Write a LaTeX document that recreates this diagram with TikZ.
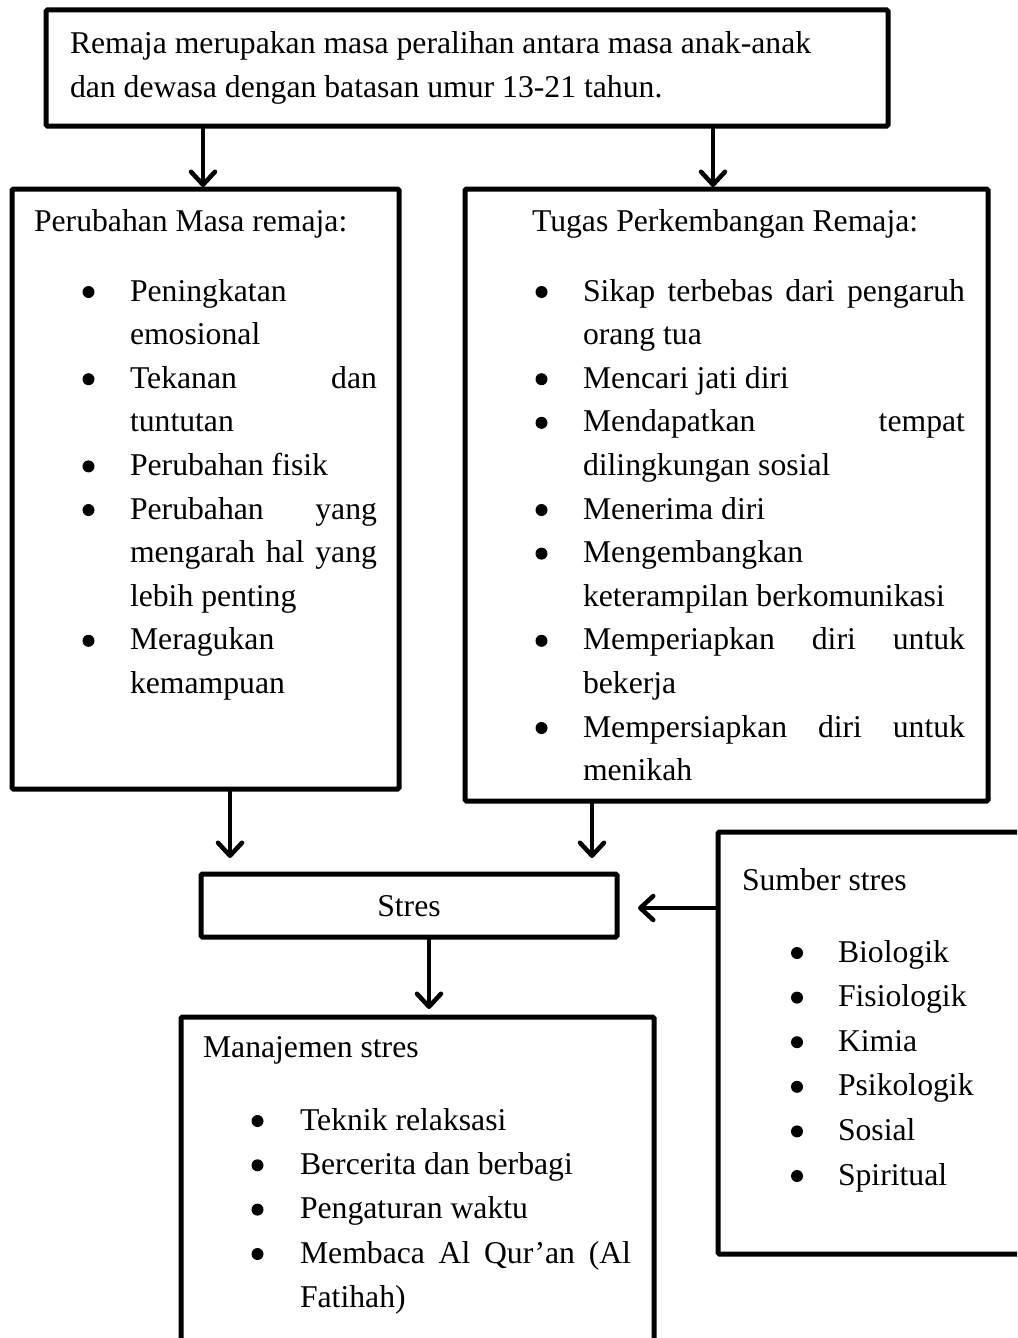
\documentclass[tikz,border=0pt]{standalone}
\usepackage{fontspec}
\setmainfont{Liberation Serif}
\usetikzlibrary{arrows.meta}
\tikzset{
  box/.style={draw, line width=5pt, rounded corners=1.5pt, anchor=north west, inner sep=0pt, outer sep=0pt},
  txt/.style={anchor=base west, inner sep=0pt, outer sep=0pt, font=\fontsize{31.7}{43.6}\selectfont},
  ctxt/.style={anchor=base, inner sep=0pt, outer sep=0pt, font=\fontsize{31.7}{43.6}\selectfont},
  bul/.style={circle, fill=black, inner sep=0pt, outer sep=0pt, minimum size=12pt, yshift=9pt},
  arr/.style={line width=4.5pt, -{Straight Barb[length=13pt,width=24pt,line cap=round,line join=round]}},
}
\begin{document}
\begin{tikzpicture}[x=1pt,y=-1pt]
\useasboundingbox (0,0) rectangle (1017,1338);
\clip (0,0) rectangle (1017,1338);
% boxes
\node[box, minimum width=842pt, minimum height=116pt] (top) at (46,10) {};
\node[box, minimum width=387pt, minimum height=600pt] (pm) at (12,189) {};
\node[box, minimum width=523pt, minimum height=612pt] (tp) at (465,189) {};
\node[box, minimum width=416pt, minimum height=63pt] (stres) at (201,874) {};
\node[box, minimum width=330pt, minimum height=422pt] (sumber) at (718,832) {};
\node[box, minimum width=473pt, minimum height=360pt] (mgmt) at (181,1017) {};
% top text
\node[txt] (t1) at (70,54) {Remaja merupakan masa peralihan antara masa anak-anak};
\node[txt] (t2) at (70,97) {dan dewasa dengan batasan umur 13-21 tahun.};
% left box
\node[txt] (ph) at (34,231) {Perubahan Masa remaja:};
\node[bul] (pb1) at (88.5,301) {};
\node[bul] (pb2) at (88.5,388.2) {};
\node[bul] (pb3) at (88.5,475.4) {};
\node[bul] (pb4) at (88.5,519) {};
\node[bul] (pb5) at (88.5,649.8) {};
\node[txt] (p1) at (130,301) {Peningkatan};
\node[txt] (p2) at (130,344.6) {emosional};
\node[txt] (p3) at (130,388.2) {\hbox to 247pt{Tekanan dan}};
\node[txt] (p4) at (130,431.8) {tuntutan};
\node[txt] (p5) at (130,475.4) {Perubahan fisik};
\node[txt] (p6) at (130,519) {\hbox to 247pt{Perubahan yang}};
\node[txt] (p7) at (130,562.6) {\hbox to 247pt{mengarah hal yang}};
\node[txt] (p8) at (130,606.2) {lebih penting};
\node[txt] (p9) at (130,649.8) {Meragukan};
\node[txt] (p10) at (130,693.4) {kemampuan};
% right box
\node[txt] (th) at (532,231) {Tugas Perkembangan Remaja:};
\node[bul] (tb1) at (541.5,301) {};
\node[bul] (tb2) at (541.5,388.2) {};
\node[bul] (tb3) at (541.5,431.8) {};
\node[bul] (tb4) at (541.5,519) {};
\node[bul] (tb5) at (541.5,562.6) {};
\node[bul] (tb6) at (541.5,649.8) {};
\node[bul] (tb7) at (541.5,737) {};
\node[txt] (q1) at (583,301) {\hbox to 382pt{Sikap terbebas dari pengaruh}};
\node[txt] (q2) at (583,344.6) {orang tua};
\node[txt] (q3) at (583,388.2) {Mencari jati diri};
\node[txt] (q4) at (583,431.8) {\hbox to 382pt{Mendapatkan tempat}};
\node[txt] (q5) at (583,475.4) {dilingkungan sosial};
\node[txt] (q6) at (583,519) {Menerima diri};
\node[txt] (q7) at (583,562.6) {Mengembangkan};
\node[txt] (q8) at (583,606.2) {keterampilan berkomunikasi};
\node[txt] (q9) at (583,649.8) {\hbox to 382pt{Memperiapkan diri untuk}};
\node[txt] (q10) at (583,693.4) {bekerja};
\node[txt] (q11) at (583,737) {\hbox to 382pt{Mempersiapkan diri untuk}};
\node[txt] (q12) at (583,780.6) {menikah};
% stres
\node[ctxt] (st) at (409,916) {Stres};
% sumber
\node[txt] (sh) at (742,890) {Sumber stres};
\node[bul] (sb1) at (797,962) {};
\node[bul] (sb2) at (797,1006.6) {};
\node[bul] (sb3) at (797,1051.2) {};
\node[bul] (sb4) at (797,1095.8) {};
\node[bul] (sb5) at (797,1140.4) {};
\node[bul] (sb6) at (797,1185) {};
\node[txt] (s1) at (838,962) {Biologik};
\node[txt] (s2) at (838,1006.6) {Fisiologik};
\node[txt] (s3) at (838,1051.2) {Kimia};
\node[txt] (s4) at (838,1095.8) {Psikologik};
\node[txt] (s5) at (838,1140.4) {Sosial};
\node[txt] (s6) at (838,1185) {Spiritual};
% manajemen
\node[txt] (mh) at (203,1057) {Manajemen stres};
\node[bul] (mb1) at (257.5,1130) {};
\node[bul] (mb2) at (257.5,1174.3) {};
\node[bul] (mb3) at (257.5,1218.6) {};
\node[bul] (mb4) at (257.5,1263) {};
\node[txt] (m1) at (300,1130) {Teknik relaksasi};
\node[txt] (m2) at (300,1174.3) {Bercerita dan berbagi};
\node[txt] (m3) at (300,1218.6) {Pengaturan waktu};
\node[txt] (m4) at (300,1263) {\hbox to 331pt{Membaca Al Qur’an (Al}};
\node[txt] (m5) at (300,1307) {Fatihah)};
% arrows
\coordinate (a1) at (203,0);
\coordinate (a2) at (713,0);
\coordinate (a3) at (230,0);
\coordinate (a4) at (592,0);
\coordinate (a5) at (0,908);
\coordinate (a6) at (429,0);
\draw[arr, shorten >=2pt] (top.south -| a1) -- (pm.north -| a1);
\draw[arr, shorten >=2pt] (top.south -| a2) -- (tp.north -| a2);
\draw[arr, shorten >=16pt] (pm.south -| a3) -- (stres.north -| a3);
\draw[arr, shorten >=16pt] (tp.south -| a4) -- (stres.north -| a4);
\draw[arr, shorten >=21pt] (sumber.west |- a5) -- (stres.east |- a5);
\draw[arr, shorten >=8pt] (stres.south -| a6) -- (mgmt.north -| a6);
\end{tikzpicture}
\end{document}
